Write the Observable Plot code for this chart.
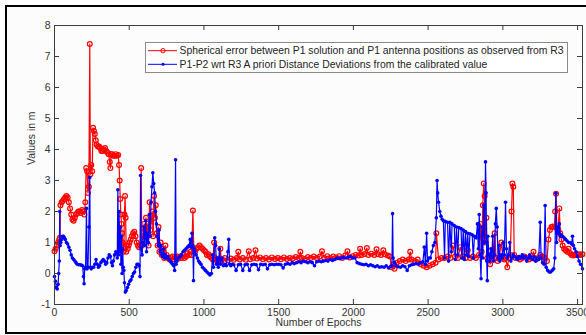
<!DOCTYPE html>
<html><head><meta charset="utf-8">
<script src="https://cdn.jsdelivr.net/npm/d3@7"></script>
<script src="https://cdn.jsdelivr.net/npm/@observablehq/plot@0.6"></script>
<style>
html,body{margin:0;padding:0;background:#fff;}
#wrap{position:relative;width:586px;height:335px;overflow:hidden;background:#fff;}
#border{position:absolute;left:5px;top:5px;width:700px;height:329px;border:2px solid #000;box-sizing:border-box;background:#fcfcfc;}
#chart{position:absolute;left:0;top:0;}
</style></head>
<body>
<div id="wrap"><div id="border"></div><div id="chart"></div></div>
<script>
const xTicks = [0, 500, 1000, 1500, 2000, 2500, 3000, 3500];
const yTicks = [-1, 0, 1, 2, 3, 4, 5, 6, 7, 8];
const xLabel = "Number of Epochs";
const yLabel = "Values in m";
const seriesNames = [
  "Spherical error between P1 solution and P1 antenna positions as observed from R3",
  "P1-P2 wrt R3 A priori Distance Deviations from the calibrated value"
];
const seriesColors = ["#ff0000", "#0000ff"];

// [epoch, value in m]
const redSeries = [
[0,0.72],[8,0.8],[16,0.9],[24,1.0],[32,1.1],[36,1.15],[40,2.2],[48,2.3],[56,2.35],[64,2.4],[72,2.45],[80,2.5],[88,2.45],[96,2.3],[104,2.1],[112,1.9],[120,1.75],[128,1.7],[136,1.8],[144,1.9],[152,1.95],[160,2.0],[168,2.0],[176,1.95],[184,2.05],[192,2.0],[200,1.9],[206,2.3],[212,3.4],[218,3.3],[224,2.6],[230,2.8],[236,7.4],[240,3.2],[246,3.5],[252,3.3],[258,4.7],[264,4.6],[270,4.5],[276,4.3],[282,4.15],[290,4.1],[298,4.1],[306,4.05],[314,3.95],[322,3.95],[330,4.0],[338,4.05],[346,3.95],[354,3.9],[362,3.85],[370,3.6],[374,3.4],[378,3.85],[386,3.85],[394,3.8],[402,3.8],[410,3.85],[418,3.8],[426,3.82],[432,3.5],[436,3.0],[440,2.4],[444,1.9],[448,1.6],[452,1.3],[456,1.0],[460,0.7],[464,0.85],[468,1.9],[472,2.5],[476,1.8],[480,0.7],[484,0.9],[490,0.8],[496,0.9],[502,1.0],[510,1.1],[518,1.2],[526,1.3],[534,1.35],[542,1.2],[550,1.0],[558,0.9],[566,0.85],[574,0.9],[580,3.4],[584,0.9],[592,1.2],[600,1.6],[606,1.4],[612,1.8],[618,1.2],[624,1.6],[630,0.9],[636,2.3],[642,1.4],[648,1.7],[654,2.0],[660,1.2],[666,2.5],[672,1.8],[678,2.2],[684,1.3],[690,0.9],[696,1.5],[702,0.7],[710,1.0],[718,0.6],[726,0.8],[734,0.5],[742,0.9],[750,0.6],[760,0.5],[770,0.45],[780,0.52],[790,0.55],[800,0.45],[810,0.5],[820,0.55],[830,0.48],[840,0.55],[850,0.5],[860,0.6],[870,0.5],[880,0.55],[890,0.65],[900,0.6],[910,0.7],[918,0.6],[926,2.03],[932,0.8],[940,0.7],[950,0.8],[960,0.85],[970,0.9],[980,0.85],[990,0.8],[1000,0.75],[1010,0.7],[1020,0.6],[1030,0.62],[1040,0.55],[1050,0.5],[1060,0.45],[1068,1.0],[1074,0.5],[1080,0.45],[1090,0.4],[1100,0.45],[1110,0.8],[1116,0.4],
[1120,0.45],[1140,0.5],[1160,0.43],[1180,0.48],[1200,0.44],[1220,0.5],[1230,0.7],[1240,0.45],[1260,0.5],[1280,0.44],[1300,0.72],[1310,0.46],[1330,0.5],[1345,0.75],[1355,0.48],[1375,0.52],[1395,0.46],[1415,0.5],[1435,0.45],[1455,0.52],[1475,0.47],[1495,0.5],[1515,0.46],[1535,0.52],[1555,0.47],[1575,0.5],[1595,0.48],[1615,0.53],[1635,0.5],[1645,0.7],[1655,0.5],[1675,0.47],[1695,0.53],[1715,0.5],[1735,0.55],[1755,0.5],[1775,0.55],[1790,0.72],[1805,0.5],[1825,0.56],[1845,0.5],[1865,0.55],[1885,0.52],[1905,0.56],[1925,0.5],[1945,0.58],[1960,0.72],[1975,0.52],[1995,0.56],[2015,0.6],[2035,0.58],[2045,0.8],[2055,0.6],[2075,0.63],[2090,0.82],[2100,0.6],[2120,0.64],[2140,0.6],[2155,0.78],[2165,0.62],[2185,0.6],[2200,0.75],[2210,0.62],[2230,0.58],[2245,0.55],
[2255,0.2],[2265,0.3],[2275,0.15],[2290,0.35],[2310,0.4],[2330,0.45],[2350,0.4],[2370,0.45],[2380,0.7],[2390,0.45],[2410,0.4],[2430,0.45],[2450,0.3],[2470,0.25],[2490,0.2],[2510,0.25],[2530,0.3],[2550,0.35],[2555,1.3],[2570,0.45],[2590,0.5],[2610,0.5],[2630,0.55],[2650,0.5],[2665,0.9],[2680,0.55],[2700,0.5],[2715,0.85],[2730,0.55],[2750,0.5],[2765,0.75],[2780,0.5],[2800,0.55],[2820,0.5],[2840,0.6],[2850,1.6],[2858,0.7],[2866,2.2],[2872,2.9],[2878,2.5],[2884,1.0],[2890,1.8],[2896,0.5],[2905,0.6],[2915,0.3],[2925,0.5],[2935,0.6],[2945,1.3],[2955,0.5],[2965,0.4],[2975,0.5],[2990,1.0],[3000,0.5],[3010,0.45],[3020,0.5],[3030,0.2],[3040,0.5],[3050,0.6],[3058,2.0],[3064,2.9],[3070,2.8],[3076,0.6],[3085,0.5],[3100,0.5],[3115,0.45],[3130,0.5],[3145,0.55],[3160,0.5],[3175,0.45],[3190,0.5],[3205,0.7],[3220,0.45],[3235,0.5],[3250,0.6],[3265,0.55],[3280,0.5],[3295,0.4],[3305,1.1],[3315,1.4],[3325,1.5],[3335,1.52],[3345,1.5],[3350,2.0],[3356,2.57],[3362,1.45],[3370,1.4],[3378,2.1],[3384,1.3],[3392,1.1],[3400,0.9],[3410,0.8],[3420,0.75],[3430,0.7],[3440,0.8],[3450,0.65],[3460,0.6],[3470,0.58],[3480,0.6],[3490,0.62],[3500,0.6],[3510,0.62],[3520,0.6],[3533,0.62]
];

const blueSeries = [
[0,-0.1],[6,-0.25],[12,-0.45],[18,-0.5],[24,-0.35],[28,0.0],[32,0.4],[35,2.0],[38,0.9],[42,1.0],[48,1.1],[54,1.2],[60,1.2],[66,1.15],[72,1.1],[80,1.0],[88,0.95],[96,0.85],[104,0.75],[112,0.6],[120,0.5],[128,0.45],[136,0.4],[144,0.35],[152,0.3],[160,0.28],[170,0.28],[180,0.27],[188,0.25],[194,-0.1],[198,-0.33],[202,0.15],[208,0.2],[214,2.1],[218,0.15],[224,0.2],[230,1.5],[236,3.1],[240,0.2],[246,0.15],[254,0.2],[262,0.2],[270,0.3],[278,0.45],[286,0.3],[294,0.2],[302,0.25],[310,0.35],[318,0.4],[326,0.45],[334,0.4],[342,0.3],[350,0.35],[358,0.5],[366,0.6],[374,0.55],[382,0.35],[388,0.25],[394,0.4],[402,0.6],[410,0.7],[416,0.65],[420,0.5],[424,2.7],[428,0.6],[432,2.0],[436,0.7],[440,1.5],[444,0.3],[448,1.2],[452,0.0],[456,0.8],[460,0.2],[464,0.1],[468,-0.3],[474,-0.6],[480,-0.55],[488,-0.45],[496,-0.35],[504,-0.25],[512,-0.2],[520,-0.1],[528,0.0],[536,0.05],[544,0.2],[552,0.3],[560,0.3],[566,0.25],[572,-0.1],[576,3.16],[580,0.8],[586,0.6],[592,1.0],[598,1.5],[604,0.9],[610,1.7],[616,0.7],[622,1.3],[628,1.0],[634,1.9],[640,1.2],[646,2.3],[652,2.8],[658,3.25],[664,2.9],[670,2.6],[676,2.0],[682,1.6],[688,1.2],[694,0.9],[700,1.4],[706,0.7],[712,0.9],[718,0.6],[724,0.55],[730,0.8],[736,0.5],[742,0.6],[750,0.5],[758,0.55],[766,0.45],[774,0.4],[782,0.35],[790,0.3],[798,0.25],[804,0.1],[810,3.67],[814,0.3],[820,0.4],[830,0.5],[840,0.55],[850,0.6],[860,0.7],[870,0.75],[880,0.8],[890,0.85],[900,0.9],[908,1.1],[914,0.85],[920,1.3],[926,0.9],[930,-0.23],[934,0.8],[940,0.7],[948,0.6],[956,0.5],[964,0.4],[972,0.35],[980,0.3],[990,0.2],[1000,0.15],[1010,0.1],[1020,0.05],[1030,0.0],[1040,-0.05],[1050,0.0],[1058,0.6],[1064,0.2],[1072,1.15],[1078,0.9],[1084,0.3],[1090,0.5],[1096,0.2],[1104,0.8],[1110,0.3],[1120,0.5],[1130,0.25],[1140,0.3],[1150,0.25],[1160,0.7],[1166,1.1],[1172,0.3],[1180,0.25],[1190,0.3],[1200,0.28],[1215,0.1],[1230,0.28],[1245,0.3],[1260,0.1],[1275,0.28],[1290,0.3],[1305,0.1],[1320,0.28],[1335,0.3],[1350,0.28],[1365,0.12],[1380,0.3],[1395,0.28],[1410,0.3],[1425,0.15],[1440,0.28],[1455,0.3],[1470,0.28],[1485,0.3],[1500,0.3],[1515,0.28],[1530,0.18],[1545,0.3],[1560,0.32],[1575,0.3],[1590,0.35],[1605,0.32],[1620,0.35],[1635,0.38],[1650,0.35],[1665,0.4],[1680,0.38],[1695,0.35],[1710,0.38],[1725,0.35],[1740,0.25],[1755,0.38],[1770,0.4],[1785,0.38],[1800,0.4],[1815,0.42],[1830,0.4],[1845,0.45],[1860,0.42],[1875,0.45],[1890,0.5],[1905,0.48],[1920,0.5],[1935,0.52],[1950,0.5],[1965,0.52],[1980,0.55],[1995,0.5],[2010,0.5],[2025,0.35],[2040,0.32],[2055,0.3],[2070,0.28],[2085,0.3],[2100,0.25],[2115,0.28],[2130,0.25],[2145,0.22],[2160,0.25],[2175,0.2],[2190,0.22],[2205,0.2],[2220,0.25],[2235,0.18],[2250,0.22],[2258,0.25],[2262,1.93],[2266,0.5],[2275,0.35],[2285,0.25],[2300,0.22],[2315,0.2],[2330,0.25],[2345,0.22],[2360,0.1],[2375,0.25],[2390,0.28],[2405,0.3],[2420,0.32],[2435,0.3],[2450,0.35],[2465,0.38],[2475,0.85],[2482,0.3],[2490,1.3],[2496,0.4],[2505,0.5],[2515,0.5],[2525,0.7],[2535,0.9],[2545,1.0],[2555,1.8],[2560,3.0],[2564,2.6],[2570,2.3],[2578,2.0],[2586,1.85],[2594,1.75],[2602,1.7],[2610,0.5],[2615,1.68],[2630,1.65],[2637,0.4],[2645,1.65],[2655,0.7],[2660,1.6],[2675,1.55],[2682,0.45],[2690,1.5],[2698,0.6],[2705,1.48],[2720,1.45],[2727,0.5],[2735,1.4],[2742,0.45],[2750,1.35],[2758,0.6],[2765,1.3],[2772,0.55],[2780,1.28],[2795,1.25],[2802,0.5],[2810,1.2],[2822,1.15],[2830,1.6],[2836,0.8],[2842,1.9],[2848,0.6],[2854,-0.17],[2860,1.5],[2866,0.5],[2872,2.2],[2878,1.0],[2884,3.6],[2888,2.6],[2892,0.4],[2896,-0.23],[2900,1.2],[2906,0.6],[2912,0.4],[2920,0.8],[2926,0.5],[2932,1.2],[2938,0.4],[2944,0.6],[2950,1.6],[2956,2.1],[2962,1.5],[2968,0.5],[2974,0.9],[2980,0.4],[2988,0.6],[2996,0.5],[3004,1.0],[3010,0.6],[3018,2.3],[3024,0.8],[3030,0.5],[3038,0.6],[3046,1.0],[3054,0.4],[3062,0.5],[3070,0.6],[3080,0.55],[3090,0.5],[3100,0.45],[3110,0.55],[3120,0.5],[3130,0.6],[3140,0.5],[3150,0.55],[3160,0.4],[3170,0.5],[3180,0.6],[3190,0.5],[3200,0.45],[3210,0.55],[3220,0.4],[3230,0.5],[3240,0.45],[3250,1.65],[3256,0.5],[3266,0.35],[3276,0.3],[3283,2.19],[3290,0.2],[3300,0.1],[3310,0.05],[3320,0.05],[3330,0.1],[3340,0.15],[3348,0.5],[3355,2.59],[3360,1.0],[3366,1.5],[3372,1.3],[3378,1.6],[3384,1.2],[3390,1.25],[3400,1.2],[3410,1.15],[3420,1.1],[3430,1.05],[3440,1.0],[3450,1.0],[3460,0.95],[3466,1.2],[3472,0.9],[3480,0.8],[3490,0.7],[3500,0.55],[3510,0.4],[3520,0.3],[3533,0.15]
];

const W = 586, H = 335;
const mL = 54, mR = 4, mT = 25, mB = 31;
const fw = W - mL - mR, fh = H - mT - mB;
const tk = 5;
const font = "'Liberation Sans', Arial, sans-serif";
const fs = 10.4;

const chart = Plot.plot({
  width: W, height: H,
  marginLeft: mL, marginRight: mR, marginTop: mT, marginBottom: mB,
  x: {domain: [0, 3533]},
  y: {domain: [-1, 8]},
  style: {background: "transparent", fontFamily: font, fontSize: fs + "px", color: "#333"},
  marks: [
    Plot.line(redSeries, {x: d => d[0], y: d => d[1], stroke: seriesColors[0], strokeWidth: 1.2}),
    Plot.dot(redSeries, {x: d => d[0], y: d => d[1], r: 2.4, stroke: seriesColors[0], fill: "none", strokeWidth: 1.2}),
    Plot.line(blueSeries, {x: d => d[0], y: d => d[1], stroke: seriesColors[1], strokeWidth: 1.2}),
    Plot.dot(blueSeries, {x: d => d[0], y: d => d[1], r: 1.8, fill: seriesColors[1], stroke: "none"}),
    Plot.frame({stroke: "#3c3c3c"}),
    Plot.tickX(xTicks, {x: d => d, insetTop: fh - tk, stroke: "#3c3c3c"}),
    Plot.tickX(xTicks, {x: d => d, insetBottom: fh - tk, stroke: "#3c3c3c"}),
    Plot.tickY(yTicks, {y: d => d, insetRight: fw - tk, stroke: "#3c3c3c"}),
    Plot.tickY(yTicks, {y: d => d, insetLeft: fw - tk, stroke: "#3c3c3c"}),
    Plot.axisX(xTicks, {anchor: "bottom", tickSize: 0, tickPadding: 4, tickFormat: d => String(d), label: null, fill: "#333"}),
    Plot.axisY(yTicks, {anchor: "left", tickSize: 0, tickPadding: 4, tickFormat: d => String(d), label: null, fill: "#333"}),
    Plot.text([xLabel], {text: d => d, frameAnchor: "bottom", dy: 21, fill: "#333", fontSize: fs}),
    Plot.text([yLabel], {text: d => d, frameAnchor: "left", dx: -23, rotate: -90, fill: "#333", fontSize: fs})
  ]
});
document.getElementById("chart").appendChild(chart);

// legend
const svg = d3.select(chart);
const lg = svg.append("g").attr("text-anchor", "start");
lg.append("rect").attr("x", 145.5).attr("y", 42.5).attr("width", 422).attr("height", 30)
  .attr("fill", "#fff").attr("stroke", "#8a8a8a");
const rows = [50.7, 64.3];
seriesNames.forEach((name, i) => {
  const y = rows[i];
  lg.append("line").attr("x1", 148).attr("x2", 177).attr("y1", y).attr("y2", y)
    .attr("stroke", seriesColors[i]).attr("stroke-width", 1);
  if (i === 0) {
    lg.append("circle").attr("cx", 163).attr("cy", y).attr("r", 2.2)
      .attr("fill", "none").attr("stroke", seriesColors[i]);
  } else {
    lg.append("circle").attr("cx", 163).attr("cy", y).attr("r", 1.5)
      .attr("fill", seriesColors[i]);
  }
  lg.append("text").attr("x", 179.5).attr("y", y).attr("dy", "0.35em").attr("text-anchor", "start")
    .attr("font-family", font).attr("font-size", fs).attr("fill", "#222").text(name);
});
</script>
</body></html>
